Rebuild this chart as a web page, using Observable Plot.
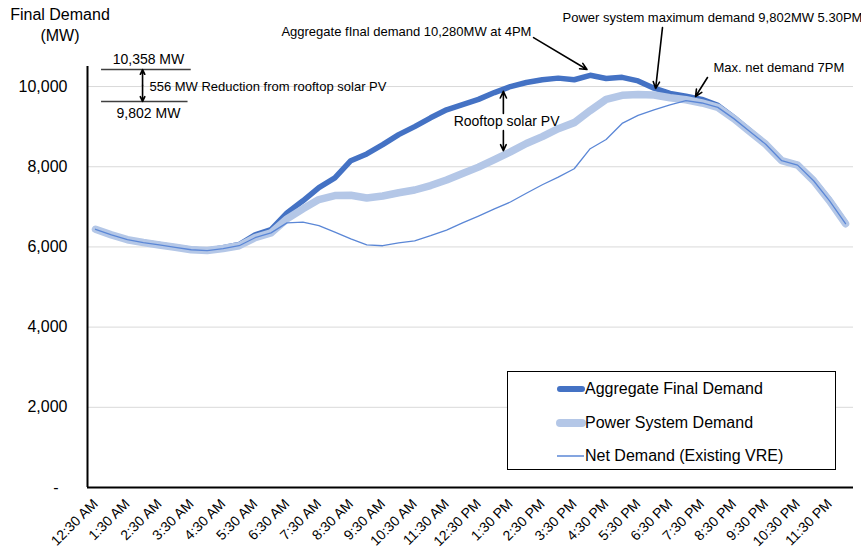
<!DOCTYPE html>
<html>
<head>
<meta charset="utf-8">
<script src="https://cdn.jsdelivr.net/npm/d3@7"></script>
<script src="https://cdn.jsdelivr.net/npm/@observablehq/plot@0.6"></script>
<style>
  html, body { margin: 0; padding: 0; background: #fff; }
  #wrap { position: relative; width: 861px; height: 556px; font-family: "Liberation Sans", Arial, sans-serif; color: #000; }
  #title { position: absolute; left: 8px; top: 4px; width: 104px; text-align: center; font-size: 16px; line-height: 21px; }
  #legend { position: absolute; left: 507px; top: 371px; width: 327px; height: 97px; border: 1.5px solid #000; background: #fff; }
  .row { position: absolute; left: 0; height: 20px; font-size: 16px; line-height: 20px; white-space: nowrap; }
  .row svg { position: absolute; left: 48px; top: 0; }
  .row span { position: absolute; left: 77px; top: 0; }
</style>
</head>
<body>
<div id="wrap">
  <div id="chart"></div>
  <div id="title">Final Demand<br>(MW)</div>
  <div id="legend"></div>
</div>
<script>
// ---- categories (half-hourly) ----
const times = ["12:30 AM","1:00 AM","1:30 AM","2:00 AM","2:30 AM","3:00 AM","3:30 AM","4:00 AM","4:30 AM","5:00 AM","5:30 AM","6:00 AM",
  "6:30 AM","7:00 AM","7:30 AM","8:00 AM","8:30 AM","9:00 AM","9:30 AM","10:00 AM","10:30 AM","11:00 AM","11:30 AM","12:00 PM",
  "12:30 PM","1:00 PM","1:30 PM","2:00 PM","2:30 PM","3:00 PM","3:30 PM","4:00 PM","4:30 PM","5:00 PM","5:30 PM","6:00 PM",
  "6:30 PM","7:00 PM","7:30 PM","8:00 PM","8:30 PM","9:00 PM","9:30 PM","10:00 PM","10:30 PM","11:00 PM","11:30 PM","12:00 AM"];

// ---- series (MW) ----
const aggregateFinal = [6440,6300,6180,6120,6060,6000,5940,5920,5980,6060,6300,6430,
  6850,7150,7480,7720,8150,8320,8550,8800,9000,9220,9420,9550,
  9680,9850,10000,10100,10170,10210,10170,10280,10200,10230,10140,9960,
  9830,9760,9680,9530,9230,8900,8570,8150,8050,7670,7170,6600];
const powerSystem = [6440,6300,6180,6110,6050,5990,5930,5910,5960,6030,6230,6350,
  6700,6950,7180,7280,7290,7220,7270,7350,7420,7530,7670,7830,
  7990,8180,8370,8580,8750,8950,9100,9400,9680,9780,9802,9790,
  9720,9670,9590,9480,9200,8880,8560,8150,8040,7650,7150,6580];
const netDemand = [6440,6300,6180,6110,6050,5990,5930,5910,5960,6030,6230,6350,
  6600,6620,6530,6370,6200,6050,6030,6100,6150,6280,6420,6600,
  6770,6950,7120,7340,7550,7740,7950,8450,8680,9080,9280,9420,
  9540,9650,9590,9480,9200,8880,8560,8150,8040,7650,7150,6580];

// ---- axis ticks ----
const xTickIdx = times.map((t, i) => i).filter(i => i % 2 === 0);
const yTicks = [0, 2000, 4000, 6000, 8000, 10000];

// ---- legend entries ----
const seriesNames = ["Aggregate Final Demand", "Power System Demand", "Net Demand (Existing VRE)"];

// ---- annotations (in chart units: category index, MW) ----
const notes = [
  {text: "Aggregate fInal demand 10,280MW at 4PM", i: 27.32, v: 11373, anchor: "end", size: 13},
  {text: "Power system maximum demand 9,802MW 5.30PM", i: 29.27, v: 11710, anchor: "start", size: 13},
  {text: "Max. net demand 7PM", i: 38.73, v: 10475, anchor: "start", size: 13},
  {text: "Rooftop solar PV", i: 25.76, v: 9116, anchor: "middle", size: 14},
  {text: "10,358 MW", i: 3.32, v: 10675, anchor: "middle", size: 14},
  {text: "9,802 MW", i: 3.32, v: 9328, anchor: "middle", size: 14},
  {text: "556 MW Reduction from rooftop solar PV", i: 3.38, v: 10001, anchor: "start", size: 13}
];
const pointers = [
  {x1: 27.45, y1: 11220, x2: 30.8, y2: 10425},
  {x1: 35.53, y1: 11470, x2: 35.1, y2: 9950},
  {x1: 38.35, y1: 10226, x2: 37.6, y2: 9752},
  {x1: 25.56, y1: 9330, x2: 25.56, y2: 9880},
  {x1: 25.56, y1: 8900, x2: 25.56, y2: 8400},
  {x1: 2.95, y1: 10030, x2: 2.95, y2: 10425},
  {x1: 2.95, y1: 10030, x2: 2.95, y2: 9627}
];
const brackets = [
  {x1: 0.38, x2: 6.0, v: 10425},
  {x1: 0.38, x2: 5.8, v: 9627}
];

const idx = times.map((t, i) => i);
const fmt = d3.format(",");

const marks = [
  Plot.ruleY(yTicks.filter(d => d > 0), {stroke: "#d9d9d9", strokeWidth: 1}),
  Plot.line(idx, {x: i => i, y: i => aggregateFinal[i], stroke: "#4472C4", strokeWidth: 5.5, strokeLinejoin: "round", strokeLinecap: "round"}),
  Plot.line(idx, {x: i => i, y: i => powerSystem[i], stroke: "#B4C7E7", strokeWidth: 7.5, strokeLinejoin: "round", strokeLinecap: "round"}),
  Plot.line(idx, {x: i => i, y: i => netDemand[i], stroke: "#5B87D6", strokeWidth: 1.3, strokeLinejoin: "round"}),
  Plot.ruleX([-0.5], {stroke: "#000", strokeWidth: 2}),
  Plot.ruleY([0], {stroke: "#000", strokeWidth: 2}),
  Plot.ruleY(brackets, {y: "v", x1: "x1", x2: "x2", stroke: "#404040", strokeWidth: 1.5}),
  Plot.arrow(pointers, {x1: "x1", y1: "y1", x2: "x2", y2: "y2", stroke: "#000", strokeWidth: 1.6, headLength: 7, headAngle: 50}),
  ...notes.map(n => Plot.text([n], {x: "i", y: "v", text: "text", textAnchor: n.anchor, fontSize: n.size, fill: "#000"}))
];

const hasAxisMarks = typeof Plot.axisX === "function";
if (hasAxisMarks) {
  marks.push(Plot.axisX(xTickIdx, {tickFormat: i => times[i], tickRotate: -45, tickSize: 0, tickPadding: 14, fontSize: 14, label: null}));
  marks.push(Plot.axisY(yTicks, {tickFormat: v => v === 0 ? "-\u00a0\u00a0" : fmt(v), tickSize: 0, tickPadding: 20, fontSize: 16, label: null}));
}

const chart = Plot.plot({
  width: 861,
  height: 556,
  marginLeft: 87,
  marginRight: 8,
  marginTop: 66,
  marginBottom: 69,
  style: {fontFamily: "'Liberation Sans', Arial, sans-serif", fontSize: "16px", background: "transparent", color: "#000", overflow: "visible"},
  x: hasAxisMarks ? {domain: [-0.5, 47.5], axis: null} :
     {domain: [-0.5, 47.5], ticks: xTickIdx, tickFormat: i => times[i], tickRotate: -45, tickSize: 0, tickPadding: 14, label: null},
  y: hasAxisMarks ? {domain: [0, 10500], axis: null} :
     {domain: [0, 10500], ticks: yTicks, tickFormat: v => v === 0 ? "-\u00a0\u00a0" : fmt(v), tickSize: 0, tickPadding: 20, label: null},
  marks
});
document.getElementById("chart").appendChild(chart);

// ---- legend ----
const legendStyles = [
  {stroke: "#4472C4", width: 6},
  {stroke: "#B4C7E7", width: 8},
  {stroke: "#5B87D6", width: 1.5}
];
const legend = document.getElementById("legend");
seriesNames.forEach((name, k) => {
  const row = document.createElement("div");
  row.className = "row";
  row.style.top = (7 + k * 33.5) + "px";
  row.style.width = "320px";
  const s = legendStyles[k];
  row.innerHTML = `<svg width="30" height="20"><line x1="${s.width > 3 ? 4 : 1}" x2="${s.width > 3 ? 26 : 28}" y1="10" y2="10" stroke="${s.stroke}" stroke-width="${s.width}" stroke-linecap="${s.width > 3 ? "round" : "butt"}"/></svg><span>${name}</span>`;
  legend.appendChild(row);
});
</script>
</body>
</html>
